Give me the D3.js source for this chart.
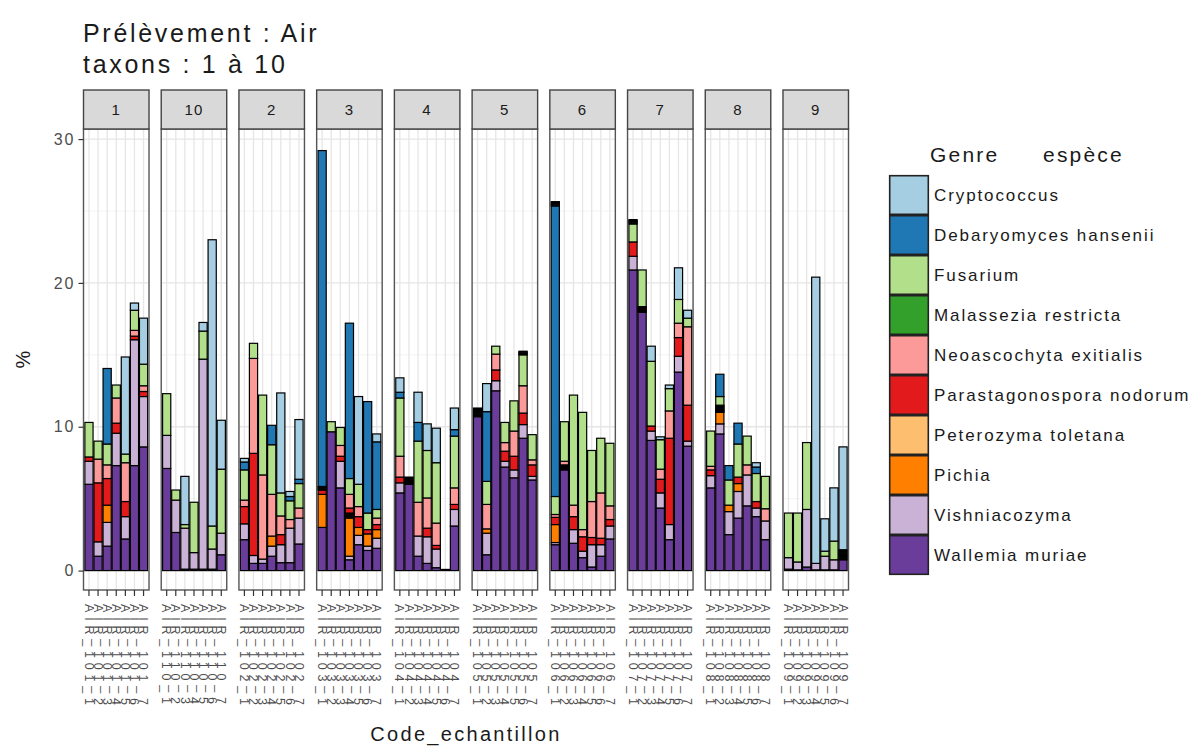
<!DOCTYPE html>
<html>
<head>
<meta charset="utf-8">
<script src="https://cdn.jsdelivr.net/npm/d3@7"></script>
<style>
  body { margin: 0; background: #fff; }
  svg text { font-family: "Liberation Sans", Arial, Helvetica, sans-serif; }
</style>
</head>
<body>
<svg id="chart" width="1203" height="747"></svg>
<script>
// ---- Data -------------------------------------------------------------
// Facet order as drawn (alphabetical on the taxon-group label)
const facets = ["1", "10", "2", "3", "4", "5", "6", "7", "8", "9"];
const replicates = [1, 2, 3, 4, 5, 6, 7];
const yTicks = [0, 10, 20, 30];

// Legend / factor order
const taxa = [
  "Cryptococcus", "Debaryomyces hansenii", "Fusarium", "Malassezia restricta",
  "Neoascochyta exitialis", "Parastagonospora nodorum", "Peterozyma toletana",
  "Pichia", "Vishniacozyma", "Wallemia muriae"
];
const taxonColors = [
  "#A6CEE3", "#1F78B4", "#B2DF8A", "#33A02C", "#FB9A99",
  "#E31A1C", "#FDBF6F", "#FF7F00", "#CAB2D6", "#6A3D9A"
];

// Relative abundance (%) per taxon, 7 samples per facet, facets in the order above
const cryptococcus = [
  0, 0, 0, 0, 6.75, 0.5, 3.2,
  0, 0, 3.35, 0, 0.6, 19.9, 3.4,
  0.25, 0, 0, 0, 6.95, 0.35, 4.15,
  0, 0, 0, 0, 6.1, 0, 0.55,
  1.0, 0, 2.1, 1.85, 2.4, 0, 1.5,
  0, 1.95, 0, 0, 0, 0.25, 0,
  0.3, 0, 0, 0, 0, 0, 0,
  0.3, 0, 1.05, 0.2, 0.25, 2.2, 0.55,
  0, 0, 0, 0, 0, 0.3, 0,
  0, 0, 0, 19.9, 2.25, 3.7, 7.15
];
const debaryomyces = [
  0, 0, 5.25, 0, 0, 0, 0,
  0, 0, 0, 0, 0, 0, 0,
  0.55, 0, 0, 1.35, 0, 0.3, 0.3,
  23.35, 0, 0, 10.8, 0, 7.75, 4.7,
  0.4, 0, 1.3, 0, 0, 0, 0.45,
  0, 4.85, 0, 0, 0, 0, 0,
  20.2, 0, 0, 0, 0, 0, 0,
  0, 0, 0, 0, 0, 0, 0,
  0, 1.55, 1.0, 1.45, 0, 0.45, 0,
  0, 0, 0, 0, 0, 0, 0
];
const fusarium = [
  2.4, 1.25, 1.45, 0.9, 0.6, 1.4, 1.5,
  2.9, 0.7, 0.25, 3.5, 1.95, 1.6, 4.45,
  2.1, 1.05, 5.55, 3.45, 1.6, 1.3, 1.7,
  0, 0.7, 1.25, 1.1, 1.55, 1.15, 0.6,
  4.05, 0, 4.25, 3.3, 4.2, 0, 3.6,
  0, 1.6, 0.55, 1.4, 2.1, 2.15, 1.75,
  1.25, 2.75, 7.65, 8.15, 3.55, 3.8, 4.35,
  1.25, 2.55, 4.5, 2.05, 1.55, 1.65, 0.6,
  2.45, 0.6, 1.75, 2.3, 2.0, 1.95, 2.25,
  3.1, 3.4, 4.65, 0, 0.35, 1.3, 0
];
const malassezia = [
  0, 0, 0, 0, 0, 0, 0,
  0, 0, 0, 0, 0, 0, 0,
  0, 0, 0, 0, 0, 0, 0,
  0.25, 0, 0, 0, 0, 0, 0,
  0, 0.5, 0, 0, 0, 0, 0,
  0.6, 0, 0, 0, 0, 0, 0,
  0, 0, 0, 0, 0, 0, 0,
  0, 0, 0, 0, 0, 0, 0,
  0, 0.5, 0, 0, 0, 0, 0,
  0, 0, 0, 0, 0, 0, 0.7
];
const neoascochyta = [
  0, 1.65, 0.95, 1.75, 2.7, 0.4, 0.4,
  0, 0, 0, 0, 0, 0, 0,
  0.45, 6.6, 5.85, 2.9, 1.3, 0.6, 0.7,
  0, 0, 0.75, 0.95, 0.7, 0, 0.45,
  1.45, 0, 2.35, 2.1, 1.55, 0, 1.15,
  0, 1.7, 1.1, 0.6, 1.75, 1.9, 0.35,
  0.2, 0.25, 0.8, 0.5, 2.5, 3.15, 0.95,
  0, 0, 0, 0.7, 1.9, 1.0, 5.45,
  0.25, 0, 0, 0, 0.7, 0, 0.85,
  0, 0, 0, 0, 0, 0, 0
];
const parastagonospora = [
  0.3, 4.1, 1.85, 0.7, 1.05, 0.25, 0.35,
  0, 0, 0, 0, 0, 0, 0,
  1.2, 7.1, 0, 0, 0.7, 0, 0,
  0.3, 0, 0.35, 0.35, 0.75, 0.3, 0.35,
  0.4, 0, 0, 0.6, 0.25, 0, 0.35,
  0, 0, 0.75, 0.7, 0.95, 0.8, 0.8,
  0.5, 0.35, 0.9, 1.0, 0.5, 0.45, 0.45,
  1.0, 0.4, 0.35, 0.95, 6.0, 1.3, 2.5,
  0.4, 0, 0, 0.45, 0, 0.45, 0,
  0, 0, 0, 0, 0, 0, 0
];
const peterozyma = [
  0, 0, 0, 0, 0, 0, 0,
  0, 0, 0, 0, 0, 0, 0,
  0, 0, 0, 0, 0, 0, 0,
  0, 0, 0, 0.35, 0, 0, 0,
  0, 0, 0, 0, 0, 0, 0,
  0, 0, 0, 0, 0, 0, 0,
  0, 0, 0, 0, 0, 0, 0,
  0, 0, 0, 0, 0, 0, 0,
  0, 0, 0, 0, 0, 0, 0,
  0, 0, 0, 0, 0, 0, 0
];
const pichia = [
  0, 0, 1.2, 0, 0, 0, 0,
  0, 0, 0, 0, 0, 0, 0,
  0, 0, 0, 0.7, 0, 0, 0,
  2.3, 0, 0, 2.65, 0.55, 0.85, 0.6,
  0, 0, 0, 0, 0, 0, 0,
  0, 0.3, 0, 0, 0, 0, 0,
  1.25, 0, 0, 0, 0, 0, 0,
  0, 0, 0, 0, 0, 0, 0,
  0, 0.8, 0.45, 0.55, 0, 0, 0,
  0, 0, 0, 0, 0, 0, 0
];
const vishniacozyma = [
  1.6, 1.0, 1.65, 2.25, 1.55, 8.75, 3.5,
  2.3, 2.25, 2.85, 1.15, 14.6, 1.4, 1.5,
  1.1, 0.55, 0.3, 0.7, 1.25, 2.4, 1.8,
  0, 0, 1.85, 0.25, 0.65, 0.3, 0.7,
  0.7, 0, 1.4, 1.85, 1.3, 0, 1.15,
  0, 1.5, 0.7, 0.4, 0.55, 0.95, 0.25,
  0.15, 0, 0.95, 0.45, 1.55, 0.8, 0.9,
  0.95, 0, 0.65, 1.05, 1.05, 1.1, 0.35,
  0.85, 0.7, 1.6, 1.85, 2.15, 0.6, 1.3,
  0.8, 0.55, 4.0, 0.45, 0.95, 0.7, 0
];
const wallemia = [
  6.0, 1.0, 1.7, 7.3, 2.2, 7.3, 8.6,
  7.1, 2.65, 0.1, 0.1, 0.1, 0.1, 1.1,
  2.15, 0.5, 0.5, 1.0, 0.55, 0.55, 1.85,
  3.0, 9.65, 5.75, 0.75, 1.8, 1.4, 1.55,
  5.4, 6.0, 1.0, 0.5, 0.2, 0.08, 3.1,
  10.7, 1.1, 12.5, 7.2, 6.45, 9.2, 6.3,
  1.8, 7.0, 1.9, 0.9, 0.25, 1.0, 2.2,
  20.9, 17.95, 9.05, 4.35, 2.15, 13.8, 8.65,
  5.75, 9.5, 2.5, 3.65, 4.5, 3.75, 2.15,
  0.1, 0.05, 0.25, 0.05, 0.05, 0.05, 0.75
];

// Some taxa are made of many small OTU rows in a sample; each row is stacked separately
const otuRowCounts = [
  ["AIR_103_1", "Malassezia restricta", 4],
  ["AIR_103_4", "Peterozyma toletana", 5],
  ["AIR_104_2", "Malassezia restricta", 8],
  ["AIR_105_1", "Malassezia restricta", 10],
  ["AIR_105_6", "Cryptococcus", 4],
  ["AIR_106_1", "Cryptococcus", 5],
  ["AIR_106_2", "Parastagonospora nodorum", 6],
  ["AIR_107_1", "Cryptococcus", 5],
  ["AIR_107_2", "Parastagonospora nodorum", 7],
  ["AIR_108_2", "Malassezia restricta", 8],
  ["AIR_109_7", "Malassezia restricta", 12]
];

const taxonValues = [
  cryptococcus, debaryomyces, fusarium, malassezia, neoascochyta,
  parastagonospora, peterozyma, pichia, vishniacozyma, wallemia
];

// ---- Helpers -------------------------------------------------------------
const sampleCode = (f, r) => `AIR_1${f.padStart(2, "0")}_${r}`;
const color = d3.scaleOrdinal().domain(taxa).range(taxonColors);

// Stacked segments: first factor level on top, so stack in reverse legend order
const segments = [];
facets.forEach((f, fi) => {
  replicates.forEach((r, ri) => {
    const idx = fi * replicates.length + ri;
    const code = sampleCode(f, r);
    let base = 0;
    for (let t = taxa.length - 1; t >= 0; t--) {
      const v = taxonValues[t][idx];
      if (!v) continue;
      const split = otuRowCounts.find(d => d[0] === code && d[1] === taxa[t]);
      const n = split ? split[2] : 1;
      for (let k = 0; k < n; k++) {
        segments.push({ facet: f, code, taxon: taxa[t], y0: base, y1: base + v / n });
        base += v / n;
      }
    }
  });
});

// ---- Layout -------------------------------------------------------------
const svg = d3.select("#chart");
const panelTop = 129, panelBottom = 590, stripTop = 90;
const inkDark = "#1a1a1a";

const facetX = d3.scaleBand().domain(facets).range([83.5, 848.5])
  .paddingInner(0.157).paddingOuter(0);
const y = d3.scaleLinear().domain([-1.35, 30.7]).range([panelBottom, panelTop]);

// Title
const title = svg.append("g").attr("fill", inkDark)
  .style("font-size", "25px").style("letter-spacing", "2.7px");
title.append("text").attr("x", 83).attr("y", 42).text("Prélèvement : Air");
title.append("text").attr("x", 83).attr("y", 73).text("taxons : 1 à 10");

// Panels
facets.forEach(f => {
  const pw = facetX.bandwidth();
  const g = svg.append("g").attr("transform", `translate(${facetX(f)},0)`);
  const codes = replicates.map(r => sampleCode(f, r));
  const x = d3.scaleBand().domain(codes).range([0, pw])
    .paddingInner(0.1).paddingOuter(0.15);

  g.append("rect").attr("x", 0).attr("y", panelTop)
    .attr("width", pw).attr("height", panelBottom - panelTop).attr("fill", "#fff");

  // grid
  g.selectAll("line.minor").data([5, 15, 25]).join("line")
    .attr("x1", 0).attr("x2", pw).attr("y1", d => y(d)).attr("y2", d => y(d))
    .attr("stroke", "#f0f0f0").attr("stroke-width", 0.8);
  g.selectAll("line.majorY").data(yTicks).join("line")
    .attr("x1", 0).attr("x2", pw).attr("y1", d => y(d)).attr("y2", d => y(d))
    .attr("stroke", "#e6e6e6").attr("stroke-width", 1.3);
  g.selectAll("line.majorX").data(codes).join("line")
    .attr("x1", d => x(d) + x.bandwidth() / 2).attr("x2", d => x(d) + x.bandwidth() / 2)
    .attr("y1", panelTop).attr("y2", panelBottom)
    .attr("stroke", "#e6e6e6").attr("stroke-width", 1.3);

  // bars
  g.selectAll("rect.seg").data(segments.filter(s => s.facet === f)).join("rect")
    .attr("class", "seg")
    .attr("x", d => x(d.code))
    .attr("width", x.bandwidth())
    .attr("y", d => y(d.y1))
    .attr("height", d => Math.max(0, y(d.y0) - y(d.y1)))
    .attr("fill", d => color(d.taxon))
    .attr("stroke", "#000").attr("stroke-width", 1.2);

  // panel border
  g.append("rect").attr("x", 0).attr("y", panelTop)
    .attr("width", pw).attr("height", panelBottom - panelTop)
    .attr("fill", "none").attr("stroke", "#555").attr("stroke-width", 1.4);

  // strip
  g.append("rect").attr("x", 0).attr("y", stripTop)
    .attr("width", pw).attr("height", panelTop - stripTop)
    .attr("fill", "#d9d9d9").attr("stroke", "#444").attr("stroke-width", 1.4);
  g.append("text").attr("x", pw / 2).attr("y", (stripTop + panelTop) / 2)
    .attr("dy", "0.35em").attr("text-anchor", "middle")
    .attr("fill", inkDark).style("font-size", "15px").style("letter-spacing", "1.2px")
    .text(f);

  // x axis
  const ax = g.append("g").attr("transform", `translate(0,${panelBottom})`)
    .call(d3.axisBottom(x).tickSize(6).tickSizeOuter(0));
  ax.select(".domain").remove();
  ax.selectAll(".tick line").attr("stroke", "#333").attr("stroke-width", 1.2);
  ax.selectAll(".tick text")
    .attr("x", 0).attr("y", 0).attr("dy", "0.35em")
    .attr("transform", "translate(0,14) rotate(90)")
    .attr("text-anchor", "start")
    .attr("fill", "#4d4d4d")
    .style("font-size", "12.5px").style("letter-spacing", "4.8px")
    .style("font-family", "'Liberation Sans', Arial, sans-serif");
});

// y axis
const yAxis = svg.append("g").attr("transform", `translate(${facetX(facets[0])},0)`)
  .call(d3.axisLeft(y).tickValues(yTicks).tickSize(5).tickPadding(3));
yAxis.select(".domain").remove();
yAxis.selectAll(".tick line").attr("stroke", "#333").attr("stroke-width", 1.2);
yAxis.selectAll(".tick text").attr("fill", "#4d4d4d")
  .style("font-size", "16px").style("letter-spacing", "2px")
  .style("font-family", "'Liberation Sans', Arial, sans-serif");

// axis titles
svg.append("text")
  .attr("transform", `translate(30,${(panelTop + panelBottom) / 2}) rotate(-90)`)
  .attr("text-anchor", "middle").attr("fill", inkDark)
  .style("font-size", "20px").text("%");
svg.append("text")
  .attr("x", (83.5 + 848.5) / 2).attr("y", 741)
  .attr("text-anchor", "middle").attr("fill", inkDark)
  .style("font-size", "20px").style("letter-spacing", "2.3px")
  .text("Code_echantillon");

// legend
const legend = svg.append("g").attr("transform", "translate(889,175)");
const legendTitle = legend.append("text").attr("x", 41).attr("y", -13)
  .attr("fill", inkDark).style("font-size", "21px").style("letter-spacing", "2.2px");
legendTitle.append("tspan").text("Genre");
legendTitle.append("tspan").attr("x", 154).text("espèce");

const keys = legend.selectAll("g.key").data(taxa).join("g")
  .attr("class", "key")
  .attr("transform", (d, i) => `translate(0,${i * 40})`);
keys.append("rect").attr("x", 0.7).attr("y", 0.7).attr("width", 38.6).attr("height", 38.6)
  .attr("fill", d => color(d)).attr("stroke", "#222").attr("stroke-width", 1.6);
keys.append("text").attr("x", 45).attr("y", 20).attr("dy", "0.35em")
  .attr("fill", inkDark).style("font-size", "17px").style("letter-spacing", "1.9px")
  .text(d => d);
</script>
</body>
</html>
